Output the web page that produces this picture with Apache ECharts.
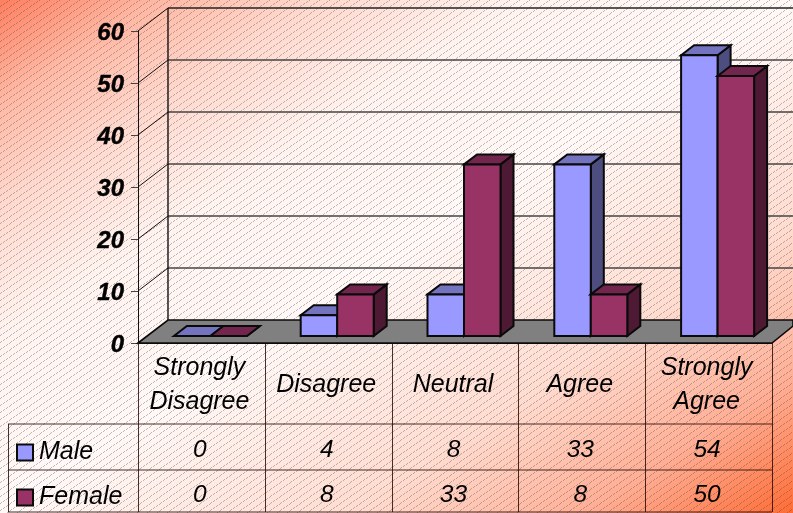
<!DOCTYPE html>
<html>
<head>
<meta charset="utf-8">
<style>html,body{margin:0;padding:0;background:#fff}#chart{width:793px;height:513px}</style>
<script src="https://cdn.jsdelivr.net/npm/echarts@6/dist/echarts.min.js"></script>
</head>
<body>
<div id="chart"></div>
<script>
// Survey responses by gender
const categories = ['Strongly\nDisagree', 'Disagree', 'Neutral', 'Agree', 'Strongly\nAgree'];
const maleValues = [0, 4, 8, 33, 54];
const femaleValues = [0, 8, 33, 8, 50];
const yTicks = [0, 10, 20, 30, 40, 50, 60];

const W = 793, H = 513;
const FONT = '"Liberation Sans", Arial, sans-serif';

// Depth of the box and of the bars, in pixels
const WALL_DX = 30, WALL_DY = -23;
const BAR_INSET_DX = 9, BAR_INSET_DY = -7;
const BAR_DX = 13, BAR_DY = -10;
const BAR_W = 36.5;

const MALE = { front: '#9999ff', top: '#7373bf', side: '#4d4d80' };
const FEMALE = { front: '#993366', top: '#73264d', side: '#4d1933' };
const OUTLINE = '#0a0a0a';

// Diagonal hatch tile laid over the gradient page
function hatchTile() {
  const c = document.createElement('canvas');
  c.width = 10; c.height = 7;
  const g = c.getContext('2d');
  g.fillStyle = 'rgba(70,70,70,0.36)';
  [[0,6],[1,5],[3,4],[4,3],[6,2],[7,1],[9,0]].forEach(function (p) {
    g.fillRect(p[0], p[1], 1, 1);
  });
  return c;
}

function poly(points, fill, width) {
  return {
    type: 'polygon',
    shape: { points: points },
    style: { fill: fill, stroke: OUTLINE, lineWidth: width === undefined ? 2 : width, lineJoin: 'miter' }
  };
}
function seg(x1, y1, x2, y2, color, width) {
  return {
    type: 'line',
    shape: { x1: x1, y1: y1, x2: x2, y2: y2 },
    style: { stroke: color, lineWidth: width }
  };
}
function label(text, x, y) {
  return {
    type: 'text',
    style: {
      text: text, x: x, y: y, fill: '#000', align: 'center', verticalAlign: 'middle',
      font: 'italic 24.5px ' + FONT
    }
  };
}

// Back wall, side wall, floor and data table frame
function renderFrame(params, api) {
  if (params.dataIndex !== 0) return null;
  const cs = params.coordSys;
  const left = cs.x, right = cs.x + cs.width, bottom = cs.y + cs.height;
  const children = [];
  yTicks.forEach(function (t) {
    const y = api.coord([0, t])[1];
    if (t > 0) {
      children.push(seg(left, y, left + WALL_DX, y + WALL_DY, '#111', 1));
      children.push(seg(left + WALL_DX, y + WALL_DY, W, y + WALL_DY, t === 60 ? '#222' : '#444', 1.4));
    }
  });
  children.push(seg(left + WALL_DX, cs.y + WALL_DY, left + WALL_DX, bottom + WALL_DY, '#111', 1.4));
  children.push(poly([
    [left, bottom], [left + WALL_DX, bottom + WALL_DY], [W, bottom + WALL_DY],
    [W, bottom - 17], [right, bottom]
  ], '#808080', 1.6));

  // Table grid
  const tableBottom = H - 1, row1 = bottom + 81, row2 = bottom + 127;
  const tableLine = 'rgba(40,10,5,0.85)';
  const tableLeft = 8;
  [row1, row2, tableBottom].forEach(function (y) {
    children.push(seg(tableLeft, y, right, y, tableLine, 1));
  });
  children.push(seg(tableLeft + 0.5, row1, tableLeft + 0.5, tableBottom, tableLine, 1));
  categories.forEach(function (c, i) {
    const x = Math.round(left + i * cs.width / categories.length) + 0.5;
    children.push(seg(x, bottom, x, tableBottom, tableLine, 1));
  });
  children.push(seg(right + 0.5, bottom, right + 0.5, tableBottom, tableLine, 1));
  return { type: 'group', children: children };
}

// One box per response level, plus its figure in the data table
function renderBars(colors, side, rowY) {
  return function (params, api) {
    const i = api.value(0), v = api.value(1);
    const c = api.coord([i, v]);
    const base = api.coord([i, 0]);
    const x0 = c[0] + BAR_INSET_DX + (side < 0 ? -BAR_W : 0);
    const x1 = x0 + BAR_W;
    const yb = base[1] + BAR_INSET_DY;
    const yt = c[1] + BAR_INSET_DY;
    const children = [];
    children.push(poly([[x1, yt], [x1 + BAR_DX, yt + BAR_DY], [x1 + BAR_DX, yb + BAR_DY], [x1, yb]], colors.side));
    children.push(poly([[x0, yt], [x0 + BAR_DX, yt + BAR_DY], [x1 + BAR_DX, yt + BAR_DY], [x1, yt]], colors.top));
    if (v > 0) children.push(poly([[x0, yt], [x1, yt], [x1, yb], [x0, yb]], colors.front));
    children.push(label(String(v), base[0] - 1.5, base[1] + rowY));
    return { type: 'group', children: children };
  };
}

const chart = echarts.init(document.getElementById('chart'), null, { renderer: 'canvas' });
chart.setOption({
  animation: false,
  graphic: [
    {
      type: 'rect', z: -20, silent: true,
      shape: { x: 0, y: 0, width: W, height: H },
      style: {
        fill: {
          type: 'linear', global: true, x: 0, y: 0, x2: 467, y2: 722,
          colorStops: [
            { offset: 0, color: '#ff7f60' },
            { offset: 0.1, color: '#ffb8a4' },
            { offset: 0.2, color: '#ffd8cd' },
            { offset: 0.33, color: '#fff3ef' },
            { offset: 0.5, color: '#fff8f6' },
            { offset: 0.72, color: '#ffdcd0' },
            { offset: 0.87, color: '#ffae95' },
            { offset: 1, color: '#ff6c35' }
          ]
        }
      }
    },
    {
      type: 'rect', z: -19, silent: true,
      shape: { x: 0, y: 0, width: W, height: H },
      style: { fill: { image: hatchTile(), repeat: 'repeat' } }
    }
  ],
  legend: {
    left: 16, top: 440, padding: 0, orient: 'vertical', itemWidth: 16, itemHeight: 16, itemGap: 20,
    height: 73,
    selectedMode: false,
    data: [
      { name: 'Male', icon: 'rect' },
      { name: 'Female', icon: 'rect' }
    ],
    itemStyle: { borderColor: OUTLINE, borderWidth: 2 },
    textStyle: { fontFamily: FONT, fontStyle: 'italic', fontSize: 25, color: '#000', padding: [0, 0, 0, 1] }
  },
  grid: { left: 138, right: W - 772, top: 31, bottom: H - 343, containLabel: false },
  xAxis: {
    type: 'category',
    data: categories,
    axisLine: { show: true, lineStyle: { color: '#111', width: 1 } },
    axisTick: { show: false },
    axisLabel: {
      interval: 0, margin: 42, hideOverlap: false, verticalAlign: 'middle',
      fontFamily: FONT, fontStyle: 'italic', fontSize: 25, color: '#000', lineHeight: 34,
      padding: [0, 4, 0, 0]
    },
    splitLine: { show: false }
  },
  yAxis: {
    type: 'value', min: 0, max: 60, interval: 10,
    axisLine: { show: true, lineStyle: { color: '#111', width: 1 } },
    axisTick: { show: true, length: 7, lineStyle: { color: '#444', width: 1 } },
    axisLabel: {
      margin: 14, fontFamily: FONT, fontStyle: 'italic', fontWeight: 'bold',
      fontSize: 24, color: '#000', verticalAlign: 'top', lineHeight: 5,
      textBorderColor: '#000', textBorderWidth: 0.4,
      formatter: function (v) { return yTicks.indexOf(v) >= 0 ? String(v) : ''; }
    },
    splitLine: { show: false }
  },
  series: [
    {
      type: 'custom', name: 'frame', z: 1, clip: false, silent: true,
      renderItem: renderFrame,
      data: [[0, 0]], encode: { x: 0, y: 1 }, tooltip: { show: false }
    },
    {
      type: 'custom', name: 'Male', z: 2, clip: false,
      itemStyle: { color: MALE.front },
      renderItem: renderBars(MALE, -1, 107),
      data: maleValues.map(function (v, i) { return [i, v]; }),
      encode: { x: 0, y: 1 }
    },
    {
      type: 'custom', name: 'Female', z: 3, clip: false,
      itemStyle: { color: FEMALE.front },
      renderItem: renderBars(FEMALE, 1, 152),
      data: femaleValues.map(function (v, i) { return [i, v]; }),
      encode: { x: 0, y: 1 }
    }
  ]
});
</script>
</body>
</html>
